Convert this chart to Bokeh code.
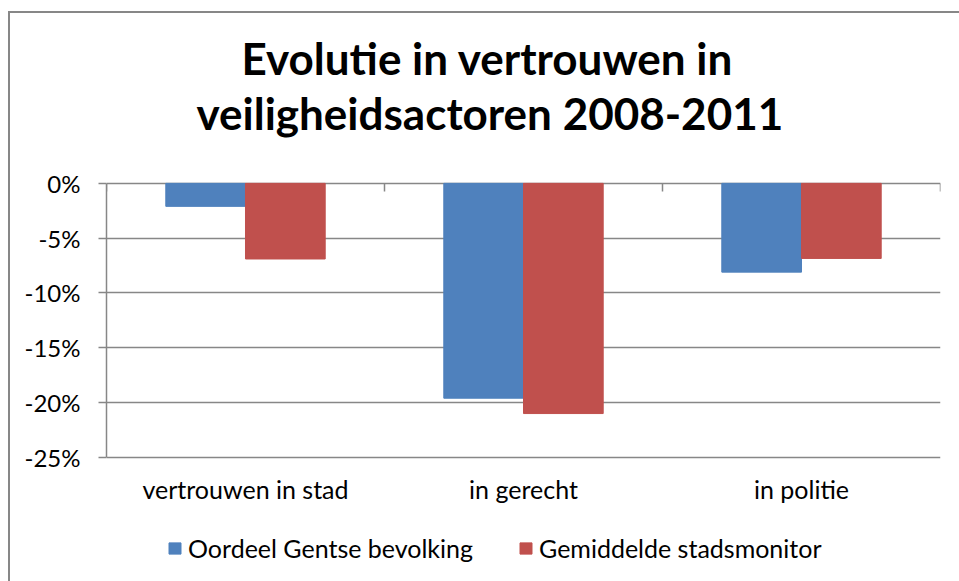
import numpy as np
from bokeh.plotting import figure
from bokeh.models import (ColumnDataSource, FactorRange, Range1d, NumeralTickFormatter,
                          FixedTicker, LinearAxis, Legend, LegendItem, Title)
from bokeh.transform import dodge
from bokeh.embed import file_html
from bokeh.resources import INLINE

# ---- data ----
categories = ["vertrouwen in stad", "in gerecht", "in politie"]
gentse = [-0.021, -0.196, -0.081]
stadsmonitor = [-0.069, -0.210, -0.0685]
series_names = ["Oordeel Gentse bevolking", "Gemiddelde stadsmonitor"]
y_ticks = [-0.25, -0.20, -0.15, -0.10, -0.05, 0.0]
title_lines = ["Evolutie in vertrouwen in", "veiligheidsactoren 2008-2011"]

# ---- style ----
FONT = "Lato"
GRAY = "#878787"
BLUE = "#4F81BD"
RED = "#C0504D"

source = ColumnDataSource(dict(cat=categories, gentse=gentse, monitor=stadsmonitor))

y_min, y_max = min(y_ticks), max(y_ticks)
# plotting frame also holds the category labels (below) and a little head room (above)
p = figure(x_range=FactorRange(*categories, range_padding=0),
           y_range=Range1d(-0.355, 0.04),
           frame_width=834, frame_height=433,
           output_backend="svg", toolbar_location=None,
           min_border_left=96, min_border_right=19,
           min_border_top=126, min_border_bottom=9,
           title=None)

p.styles = {"border-top": f"2px solid {GRAY}", "border-left": f"2px solid {GRAY}",
            "margin-left": "8px", "margin-top": "11px"}
p.outline_line_color = None
p.background_fill_color = "white"
p.border_fill_color = "white"

bw = 0.2867
r1 = p.vbar(x=dodge("cat", -bw / 2, range=p.x_range), top="gentse", bottom=0, width=bw,
            source=source, fill_color=BLUE, line_color=BLUE)
r2 = p.vbar(x=dodge("cat", bw / 2, range=p.x_range), top="monitor", bottom=0, width=bw,
            source=source, fill_color=RED, line_color=RED)

# grid
p.xgrid.visible = False
p.ygrid.ticker = FixedTicker(ticks=y_ticks)
p.ygrid.grid_line_color = GRAY
p.ygrid.grid_line_width = 1.5
p.ygrid.level = "underlay"

# y axis
yax = p.yaxis[0]
yax.ticker = FixedTicker(ticks=y_ticks)
yax.bounds = (y_min, y_max)
yax.formatter = NumeralTickFormatter(format="0%")
yax.axis_line_color = GRAY
yax.axis_line_width = 1.5
yax.major_tick_line_color = GRAY
yax.major_tick_line_width = 1.5
yax.major_tick_out = 8
yax.major_tick_in = 0
yax.minor_tick_line_color = None
yax.major_label_standoff = 18
yax.major_label_text_font = FONT
yax.major_label_text_font_size = "24px"
yax.major_label_text_color = "black"

# x axis (category labels) at the bottom of the value axis
xax = p.xaxis[0]
xax.fixed_location = y_min
xax.axis_line_color = None
xax.major_tick_line_color = None
xax.minor_tick_line_color = None
xax.major_label_standoff = 11
xax.major_label_text_font = FONT
xax.major_label_text_font_size = "25px"
xax.major_label_text_color = "black"

# boundary tick marks on the zero line
bounds = list(range(len(categories) + 1))
top_ax = LinearAxis(ticker=FixedTicker(ticks=bounds), fixed_location=y_max,
                    major_label_overrides={b: "" for b in bounds},
                    major_tick_in=8, major_tick_out=0,
                    major_tick_line_color=GRAY, major_tick_line_width=1.5,
                    minor_tick_line_color=None, axis_line_color=None,
                    major_label_text_color=None, major_label_standoff=0)
p.add_layout(top_ax, "above")

# title, one centred line each
p.add_layout(Title(text=title_lines[1], align="left", offset=90, standoff=2,
                   text_font=FONT, text_font_size="44px", text_font_style="bold",
                   text_color="black"), "above")
p.add_layout(Title(text=title_lines[0], align="left", offset=135, standoff=0,
                   text_font=FONT, text_font_size="44px", text_font_style="bold",
                   text_color="black"), "above")

legend = Legend(items=[LegendItem(label=series_names[0], renderers=[r1]),
                       LegendItem(label=series_names[1], renderers=[r2])],
                orientation="horizontal", location=(61, 9),
                glyph_width=15, glyph_height=14, label_standoff=6, spacing=45,
                padding=0, margin=0, border_line_color=None, background_fill_alpha=0,
                label_text_font=FONT, label_text_font_size="25px",
                label_text_color="black")
p.add_layout(legend)

open("out.html", "w").write(file_html(p, INLINE))
